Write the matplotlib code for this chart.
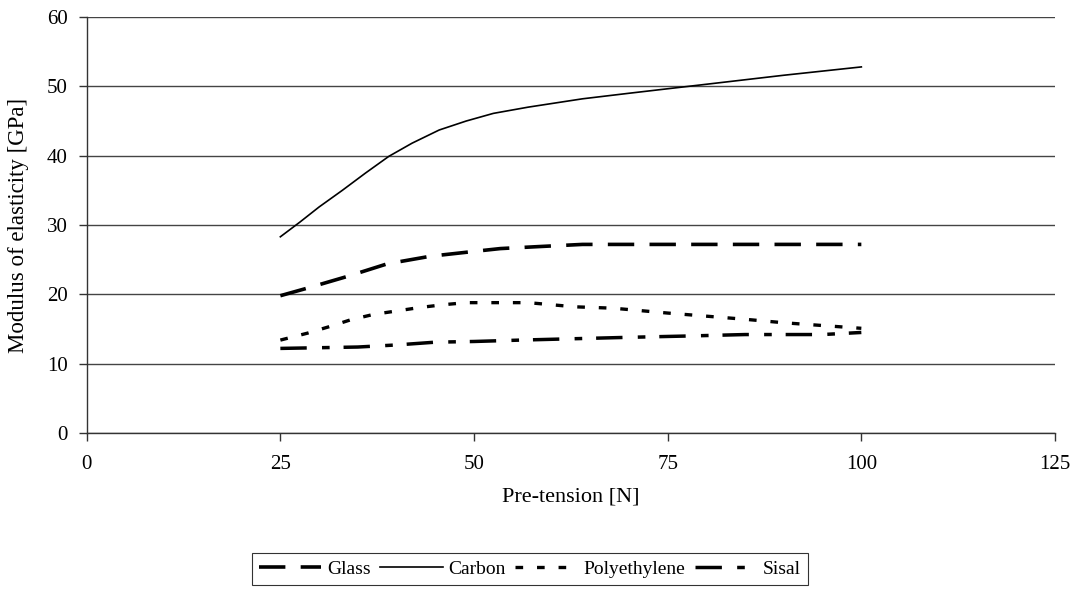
import matplotlib
matplotlib.use("Agg")
import matplotlib.pyplot as plt

plt.rcParams['font.family'] = ['Liberation Serif', 'DejaVu Serif']
plt.rcParams['lines.scale_dashes'] = False

# Data
glass_x = [25, 28.5, 33.7, 38.8, 44.4, 50.9, 53.4, 58.6, 64, 75, 100]
glass_y = [19.8, 20.9, 22.6, 24.4, 25.5, 26.3, 26.6, 26.9, 27.2, 27.2, 27.2]

carbon_x = [25, 27.5, 30, 33, 36, 39, 42, 45.5, 49, 52.5, 57, 64, 70, 80, 90, 100]
carbon_y = [28.3, 30.4, 32.6, 35.0, 37.5, 39.9, 41.8, 43.7, 45.0, 46.1, 47.0, 48.2, 49.0, 50.3, 51.6, 52.8]

poly_x = [25, 28.5, 31.5, 34, 37, 40, 43, 46, 49, 53, 57, 60, 63, 68, 75, 85, 90, 95, 100]
poly_y = [13.4, 14.4, 15.4, 16.3, 17.1, 17.6, 18.1, 18.5, 18.8, 18.8, 18.8, 18.5, 18.2, 18.0, 17.3, 16.4, 15.9, 15.5, 15.1]

sisal_x = [25, 35, 40, 45, 50, 56, 63, 70, 78, 85, 95, 100]
sisal_y = [12.2, 12.4, 12.7, 13.1, 13.2, 13.4, 13.6, 13.8, 14.0, 14.2, 14.2, 14.5]

x_ticks = [0, 25, 50, 75, 100, 125]
y_ticks = [0, 10, 20, 30, 40, 50, 60]

fig = plt.figure(figsize=(10.76, 5.89), dpi=100)
ax = fig.add_axes([86.7 / 1076, 1 - 433 / 589, (1055 - 86.7) / 1076, (433 - 17) / 589])

# Horizontal gridlines only
ax.grid(which='major', axis='y', color='#444444', linewidth=1.0, zorder=1)
ax.spines[['top', 'right']].set_visible(False)
ax.spines[['left', 'bottom']].set_color('#333333')
ax.spines[['left', 'bottom']].set_linewidth(1.0)

# Series
ax.plot(glass_x, glass_y, color='black', linewidth=2.6, dashes=(19, 11), label='Glass', zorder=3)
ax.plot(carbon_x, carbon_y, color='black', linewidth=1.2, label='Carbon', zorder=3)
ax.plot(poly_x, poly_y, color='black', linewidth=2.4, dashes=(5.5, 10), label='Polyethylene', zorder=3)
ax.plot(sisal_x, sisal_y, color='black', linewidth=2.5, dashes=(19, 11, 5.5, 10), label='Sisal', zorder=3)

ax.set_xlim(0, 125)
ax.set_ylim(0, 60)
ax.set_xticks(x_ticks)
ax.set_yticks(y_ticks)
ax.tick_params(axis='both', direction='out', length=5.5, width=1.0, color='#333333',
               labelsize=15)
ax.tick_params(axis='x', pad=10)
ax.tick_params(axis='y', pad=8)

ax.set_xlabel('Pre-tension [N]', fontsize=16, labelpad=10)
ax.set_ylabel('Modulus of elasticity [GPa]', fontsize=16.5, labelpad=13)

# Boxed legend below the plot
leg = fig.legend(loc='center', bbox_to_anchor=(530 / 1076, 1 - 569 / 589), ncol=4,
                 frameon=True, fancybox=False, edgecolor='black', fontsize=14,
                 handlelength=3.2, handletextpad=0.3, columnspacing=0.5,
                 borderpad=0.35, borderaxespad=0)
leg.get_frame().set_linewidth(0.8)

plt.savefig('out.png', dpi=100, facecolor='white')
